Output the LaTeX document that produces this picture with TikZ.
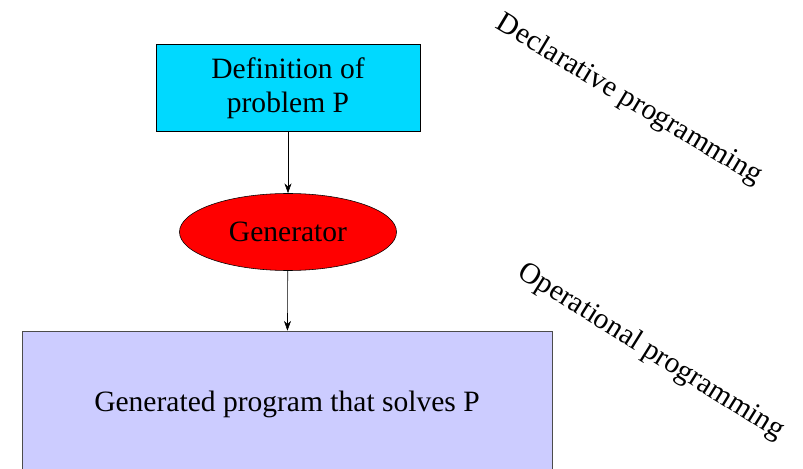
\documentclass[tikz,border=0pt]{standalone}
\usepackage{fontspec}
\setmainfont{Liberation Serif}
\usetikzlibrary{shapes.geometric,arrows.meta}
\definecolor{defcyan}{RGB}{0,217,255}
\definecolor{genred}{RGB}{255,0,0}
\definecolor{proglav}{RGB}{204,204,255}
\begin{document}
\begin{tikzpicture}[
        x=0.025cm, y=0.025cm,
        every node/.style={font=\fontsize{21}{24}\selectfont},
        defbox/.style={draw=black, fill=defcyan, minimum width=6.6cm, minimum height=2.175cm, align=center, inner sep=0pt},
        genoval/.style={ellipse, draw=black, fill=genred, minimum width=5.425cm, minimum height=1.925cm, inner sep=0pt},
        progbox/.style={draw=black!70, fill=proglav, minimum width=13.25cm, minimum height=3.675cm, inner sep=0pt},
        flow/.style={-{Stealth[length=7pt,width=5pt]}, black}
    ]
        % Frame
        \useasboundingbox (0,0) rectangle (803,468);
        \clip (0,0) rectangle (803,468);

        % Boxes
        \node[defbox] (def) at (288,380) {Definition of\\problem P};
        \node[genoval] (gen) at (288,236) {Generator};
        \node[progbox] (prog) at (287,63.5) {Generated program that solves P};

        % Arrows
        \draw[flow] (def) -- (gen);
        \draw[flow] (gen) -- (prog);

        % Slanted labels
        \node[rotate=-31] (decl) at (629,368) {Declarative programming};
        \node[rotate=-32] (oper) at (651,116) {Operational programming};

    \end{tikzpicture}
\end{document}
